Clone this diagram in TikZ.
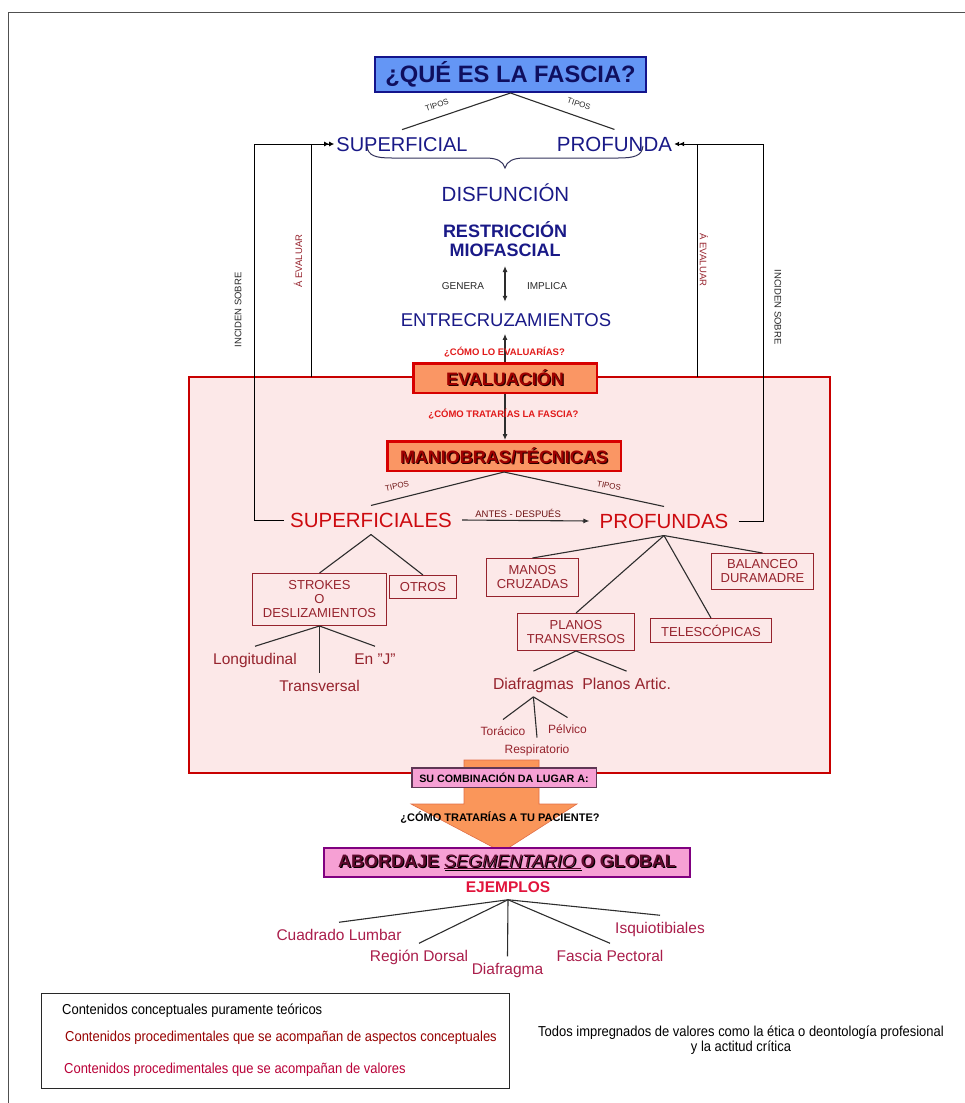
\documentclass[tikz,border=0pt]{standalone}
\usepackage{fontspec}
\setmainfont{Liberation Sans}
\newfontfamily\narrowfont{Liberation Sans}[FakeStretch=0.9]
\usetikzlibrary{arrows.meta}
\definecolor{navyT}{RGB}{25,25,135}
\definecolor{redT}{RGB}{205,10,15}
\definecolor{boxT}{RGB}{150,35,45}
\definecolor{pinkBg}{RGB}{252,232,232}
\definecolor{regB}{RGB}{200,0,0}
\definecolor{orF}{RGB}{250,150,100}
\definecolor{orB}{RGB}{215,0,0}
\definecolor{pkF}{RGB}{246,160,212}
\definecolor{pkB}{RGB}{128,0,128}
\definecolor{pkBd}{RGB}{95,55,85}
\definecolor{crim}{RGB}{225,20,60}
\definecolor{exT}{RGB}{170,30,75}
\definecolor{lineC}{RGB}{45,45,45}
\definecolor{titF}{RGB}{100,150,245}
\definecolor{titB}{RGB}{20,20,140}
\definecolor{titT}{RGB}{15,15,95}
\definecolor{evT}{RGB}{160,0,0}
\definecolor{evS}{RGB}{40,0,0}
\definecolor{abT}{RGB}{95,10,45}
\definecolor{qRed}{RGB}{225,25,25}
\definecolor{legR}{RGB}{150,0,0}
\definecolor{legC}{RGB}{185,0,55}
\definecolor{grayT}{RGB}{40,40,40}
\definecolor{antC}{RGB}{110,20,20}
\definecolor{arrF}{RGB}{250,150,90}
\definecolor{arrB}{RGB}{225,110,70}
\definecolor{frameC}{RGB}{80,80,80}
\definecolor{braceC}{RGB}{50,50,90}
\newcommand\shtext[3]{\makebox[0pt][l]{\hspace*{1.2pt}\raisebox{-1.2pt}{\textcolor{#2}{#1}}}\textcolor{#3}{#1}}
\tikzset{
  tx/.style={font=\fontsize{#1}{#1}\selectfont, /utils/exec={\pgfmathsetmacro\capht{0.716*#1}}, text height=\capht pt, text depth=0pt, inner xsep=1pt, inner ysep=7pt},
  txb/.style={tx=#1, font=\fontsize{#1}{#1}\selectfont\bfseries},
  lab/.style={font=\fontsize{#1}{#1}\selectfont, inner sep=1pt},
  labb/.style={font=\fontsize{#1}{#1}\selectfont\bfseries, inner sep=1pt},
  conn/.style={draw=lineC, line width=1.1pt},
  loopl/.style={draw=black, line width=1pt},
  dblarrow/.style={-{Latex[length=5pt,width=5pt]Latex[length=5pt,width=5pt]}},
  tip/.style={-{Latex[length=6pt,width=5pt]}},
  redbox/.style={draw=boxT, line width=1pt, align=center, font=\fontsize{13}{14}\selectfont, text=boxT, inner sep=0pt},
  orbox/.style={draw=orB, fill=orF, line width=2.5pt, inner sep=0pt, font=\fontsize{18}{18}\selectfont\bfseries},
  leg/.style={font=\narrowfont\fontsize{14.4}{15}\selectfont, inner sep=0pt},
}
\begin{document}
\begin{tikzpicture}[x=1pt,y=-1pt]
\useasboundingbox (0,0) rectangle (964,1103);
% page frame
\draw[frameC, line width=1pt] (8,1120) -- (8,12) -- (980,12);
% central region
\draw[fill=pinkBg, draw=regB, line width=1.5pt] (189,377) rectangle (830,773);
% corner coordinates
\coordinate (cL) at (254,144);
\coordinate (cLi) at (311,144);
\coordinate (bLi) at (311,377);
\coordinate (cR) at (763,144);
\coordinate (cRi) at (697,144);
\coordinate (bRi) at (697,377);

% top part
\node[draw=titB, fill=titF, line width=2.2pt, minimum width=270.8pt, minimum height=34.8pt, inner sep=0pt, font=\fontsize{23.7}{24}\selectfont\bfseries, text=titT] (title) at (510.5,74.5) {¿QUÉ ES LA FASCIA?};
\node[tx=20, text=navyT] (supT) at (402,144) {SUPERFICIAL};
\node[tx=20.5, text=navyT] (proT) at (614.5,144) {PROFUNDA};
\draw[draw=braceC, line width=1pt] (367,146) .. controls (368,156) and (376,158) .. (392,158) -- (485,158) .. controls (497,158) and (503,161) .. (505,168) .. controls (507,161) and (513,158) .. (525,158) -- (618,158) .. controls (634,158) and (642,156) .. (643,146);
\node[tx=20.5, text=navyT] (disf) at (505.5,194) {DISFUNCIÓN};
\node[font=\fontsize{18}{19}\selectfont\bfseries, text=navyT, align=center, inner sep=0pt, anchor=south] (restr) at (505,256.4) {RESTRICCIÓN\\MIOFASCIAL};
\node[tx=18.5, text=navyT] (entre) at (506,320) {ENTRECRUZAMIENTOS};
\node[lab=10, text=grayT] (gen) at (463,286) {GENERA};
\node[lab=10, text=grayT] (imp) at (547,286) {IMPLICA};

\draw[conn] (title.south) -- (supT.north);
\draw[conn] (title.south) -- (proT.north);
\node[lab=8, text=grayT, rotate=18] (tip1) at (437,105) {TIPOS};
\node[lab=8, text=grayT, rotate=-18] (tip2) at (579,104) {TIPOS};
\draw[conn, {Latex[length=6pt,width=5pt]}-{Latex[length=6pt,width=5pt]}, shorten <=9.6pt, shorten >=4.4pt] (restr.south) -- (restr.south |- entre.north);

% evaluation / techniques
\node[orbox, minimum width=183.5pt, minimum height=29.5pt] (eval) at (505,378) {\shtext{EVALUACIÓN}{evS}{evT}};
\node[orbox, minimum width=233.5pt, minimum height=29.5pt] (mani) at (504,456) {\shtext{MANIOBRAS/TÉCNICAS}{evS}{evT}};
\draw[conn, tip] (eval.north) -- (eval.north |- entre.south);
\draw[conn, tip] (eval.south) -- (eval.south |- mani.north);
\node[labb=9.5, text=qRed] (q1) at (504.5,352) {¿CÓMO LO EVALUARÍAS?};
\node[labb=9.5, text=qRed] (q2) at (503.5,414) {¿CÓMO TRATARÍAS LA FASCIA?};

\node[tx=20.5, text=redT] (supS) at (371,520) {SUPERFICIALES};
\node[tx=20.5, text=redT] (proS) at (664,521) {PROFUNDAS};
\draw[conn] (mani.south) -- (supS.north);
\draw[conn] (mani.south) -- (proS.north);
\node[lab=8, text=antC, rotate=12] (tip3) at (397,486) {TIPOS};
\node[lab=8, text=antC, rotate=-10.5] (tip4) at (609,486) {TIPOS};
\draw[conn, tip] ([xshift=9pt]supS.east) -- node[pos=0.44, above, lab=9.5, text=antC, inner ysep=2pt] {ANTES - DESPUÉS} ([xshift=-9pt]proS.west);

% side loops
\draw[loopl, dblarrow] ([xshift=-5pt]supS.west) -| (cL) -- ([xshift=-1pt]supT.west);
\draw[loopl] (bLi) -- (cLi);
\draw[loopl, dblarrow] ([xshift=9pt]proS.east) -| (cR) -- ([xshift=1pt]proT.east);
\draw[loopl] (bRi) -- (cRi);
\node[lab=9.5, text=grayT, rotate=90] (inc1) at (238,310) {INCIDEN SOBRE};
\node[lab=9.5, text=boxT, rotate=90] (ev1) at (298,261) {Á EVALUAR};
\node[lab=9.5, text=boxT, rotate=-90] (ev2) at (704,260) {Á EVALUAR};
\node[lab=9.5, text=grayT, rotate=-90] (inc2) at (778,307) {INCIDEN SOBRE};

% superficial techniques
\node[redbox, minimum width=134pt, minimum height=52pt] (strokes) at (319.5,599.5) {STROKES\\O\\DESLIZAMIENTOS};
\node[redbox, minimum width=67pt, minimum height=23pt] (otros) at (423,587) {OTROS};
\node[tx=15.5, text=boxT] (long) at (255,659) {Longitudinal};
\node[tx=15.5, text=boxT] (trans) at (319.5,686) {Transversal};
\node[tx=15.5, text=boxT] (enj) at (375,659) {En "J"};
\draw[conn] (supS.south) -- (strokes.north);
\draw[conn] (supS.south) -- (otros.north);
\draw[conn] (strokes.south) -- (long.north);
\draw[conn] (strokes.south) -- (trans.north);
\draw[conn] (strokes.south) -- (enj.north);

% deep techniques
\node[redbox, minimum width=92pt, minimum height=38pt] (manos) at (532.5,577.5) {MANOS\\CRUZADAS};
\node[redbox, minimum width=102pt, minimum height=36pt] (balan) at (762.5,571.5) {BALANCEO\\DURAMADRE};
\node[redbox, minimum width=117pt, minimum height=37pt, font=\fontsize{13}{14.5}\selectfont] (planos) at (576,632) {PLANOS\\TRANSVERSOS};
\node[redbox, minimum width=121pt, minimum height=24pt] (telesc) at (711,630.5) {TELESCÓPICAS};
\node[tx=15.8, text=boxT] (dia) at (533.4,684) {Diafragmas};
\node[tx=15.8, text=boxT] (pla) at (626.6,684) {Planos Artic.};
\node[tx=12, text=boxT] (tor) at (503,731) {Torácico};
\node[tx=12, text=boxT] (resp) at (537,749) {Respiratorio};
\node[tx=12, text=boxT] (pel) at (567.5,729) {Pélvico};
\draw[conn] (proS.south) -- (manos.north);
\draw[conn] (proS.south) -- (balan.north);
\draw[conn] (proS.south) -- (planos.north);
\draw[conn] (proS.south) -- (telesc.north);
\draw[conn] (planos.south) -- (dia.north);
\draw[conn] (planos.south) -- (pla.north);
\draw[conn] (dia.south) -- (tor.north);
\draw[conn] (dia.south) -- (resp.north);
\draw[conn] (dia.south) -- (pel.north);

% big arrow
\draw[fill=arrF, draw=arrB, line width=0.6pt] (464,760) -- (539,760) -- (539,804) -- (577,804) -- (502,852) -- (411,804) -- (464,804) -- cycle;
\node[draw=pkBd, fill=pkF, line width=1.5pt, minimum width=184.5pt, minimum height=19.5pt, inner sep=0pt, font=\fontsize{10.7}{11}\selectfont\bfseries] (comb) at (504,777.5) {SU COMBINACIÓN DA LUGAR A:};
\node[labb=11, text=black] (q3) at (500,818) {¿CÓMO TRATARÍAS A TU PACIENTE?};
\node[draw=pkB, fill=pkF, line width=2pt, minimum width=366pt, minimum height=29pt, inner sep=0pt, font=\fontsize{18}{18}\selectfont\bfseries] (abord) at (507,862.5) {\shtext{ABORDAJE \underline{{\mdseries\itshape SEGMENTARIO} }O GLOBAL}{black}{abT}};

% examples
\node[txb=15.5, text=crim] (ejem) at (508,887) {EJEMPLOS};
\node[tx=15.5, text=exT] (ex1) at (339,935) {Cuadrado Lumbar};
\node[tx=15.5, text=exT] (ex2) at (419,956) {Región Dorsal};
\node[tx=15.5, text=exT] (ex3) at (507.5,969) {Diafragma};
\node[tx=15.5, text=exT] (ex4) at (610,956) {Fascia Pectoral};
\node[tx=15.5, text=exT] (ex5) at (660,928) {Isquiotibiales};
\draw[conn] (ejem.south) -- (ex1.north);
\draw[conn] (ejem.south) -- (ex2.north);
\draw[conn] (ejem.south) -- (ex3.north);
\draw[conn] (ejem.south) -- (ex4.north);
\draw[conn] (ejem.south) -- (ex5.north);

% legend
\draw[draw=grayT, line width=0.8pt] (41,993) rectangle (509,1088);
\node[leg, text=black, anchor=west] (l1) at (62,1011) {Contenidos conceptuales puramente teóricos};
\node[leg, text=legR, anchor=west] (l2) at (65,1038) {Contenidos procedimentales que se acompañan de aspectos conceptuales};
\node[leg, text=legC, anchor=west] (l3) at (64,1070) {Contenidos procedimentales que se acompañan de valores};
\node[leg, text=black, align=center] (note) at (741,1040.5) {Todos impregnados de valores como la ética o deontología profesional\\y la actitud crítica};
\end{tikzpicture}
\end{document}
